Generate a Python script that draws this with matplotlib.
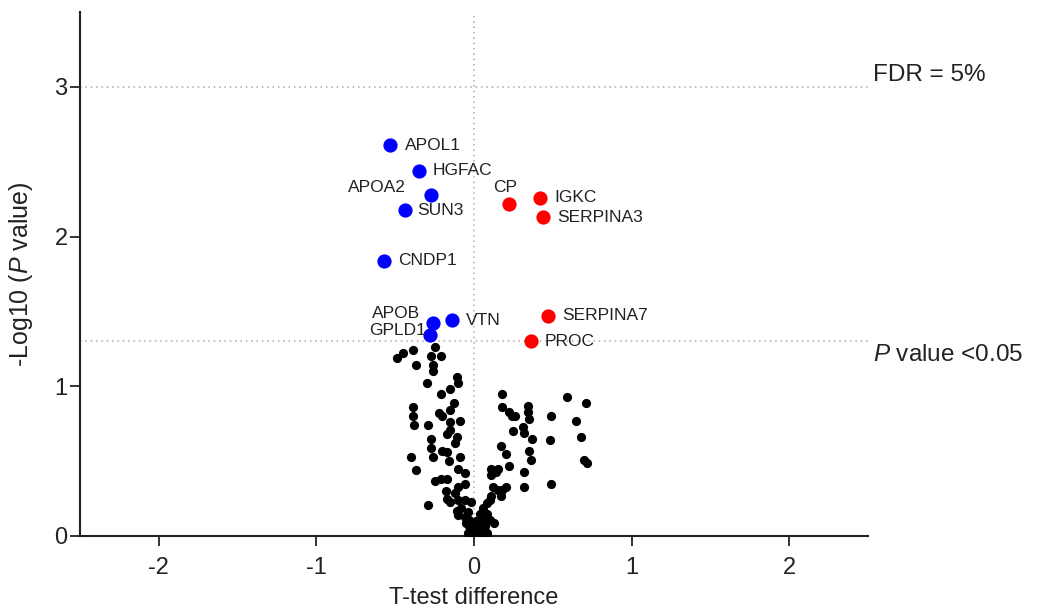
import numpy as np
import matplotlib
matplotlib.use('Agg')
import matplotlib.pyplot as plt

plt.rcParams['font.family'] = ['Liberation Sans', 'DejaVu Sans']
plt.rcParams['mathtext.fontset'] = 'custom'
plt.rcParams['mathtext.rm'] = 'Liberation Sans'
plt.rcParams['mathtext.it'] = 'Liberation Sans:italic'
plt.rcParams['axes.unicode_minus'] = False

# Non-significant proteins (T-test difference, -log10 P)
ns_diff = [-0.49, -0.45, -0.39, -0.37, -0.25, -0.27, -0.21, -0.26, -0.26, -0.30,
           -0.11, -0.10, -0.15, -0.21, -0.13, -0.15, -0.22, -0.20, -0.39, -0.39,
           -0.38, -0.29, -0.09, -0.15, -0.15, -0.17, -0.11, -0.12, -0.27, -0.27,
           -0.26, -0.40, -0.20, -0.17, -0.16, -0.09, -0.10, -0.06, -0.37, -0.25,
           -0.21, -0.17, -0.10, -0.06, -0.18, -0.17, -0.29, -0.15, -0.10, -0.06,
           -0.02, -0.11, -0.10, -0.06, -0.05, -0.03, -0.01, 0.01, -0.03, 0.02,
           -0.12, -0.04, -0.08, 0.18, 0.18, 0.22, 0.24, 0.26, 0.34, 0.34,
           0.35, 0.31, 0.25, 0.32, 0.37, 0.49, 0.48, 0.35, 0.36, 0.17,
           0.20, 0.22, 0.11, 0.14, 0.15, 0.32, 0.32, 0.49, 0.12, 0.18,
           0.20, 0.11, 0.08, 0.06, 0.04, 0.08, 0.13, 0.10, 0.05, 0.07,
           0.04, 0.59, 0.71, 0.65, 0.68, 0.70, 0.72, 0.11, 0.15, 0.10,
           0.03, 0.06, 0.01, 0.17, 0.00, 0.03, -0.04, 0.08, -0.01]
ns_logp = [1.19, 1.22, 1.24, 1.14, 1.26, 1.20, 1.20, 1.14, 1.10, 1.02,
           1.06, 1.02, 0.98, 0.95, 0.89, 0.84, 0.82, 0.80, 0.86, 0.80,
           0.74, 0.74, 0.77, 0.76, 0.71, 0.68, 0.66, 0.62, 0.65, 0.59,
           0.53, 0.53, 0.57, 0.56, 0.50, 0.53, 0.45, 0.42, 0.44, 0.37,
           0.38, 0.38, 0.33, 0.35, 0.30, 0.25, 0.21, 0.23, 0.24, 0.24,
           0.23, 0.17, 0.14, 0.13, 0.09, 0.07, 0.03, 0.01, 0.11, 0.07,
           0.29, 0.16, 0.19, 0.95, 0.86, 0.83, 0.80, 0.80, 0.87, 0.83,
           0.78, 0.73, 0.70, 0.69, 0.65, 0.80, 0.64, 0.57, 0.51, 0.60,
           0.55, 0.47, 0.45, 0.43, 0.45, 0.43, 0.33, 0.35, 0.33, 0.31,
           0.33, 0.27, 0.22, 0.19, 0.15, 0.15, 0.09, 0.11, 0.11, 0.07,
           0.04, 0.93, 0.89, 0.77, 0.66, 0.51, 0.49, 0.41, 0.31, 0.24,
           0.05, 0.03, 0.10, 0.27, 0.01, 0.01, 0.02, 0.02, 0.05]

# Significantly lower
down_genes = ['APOL1', 'HGFAC', 'APOA2', 'SUN3', 'CNDP1', 'APOB', 'VTN', 'GPLD1']
down_diff = [-0.53, -0.35, -0.27, -0.44, -0.57, -0.26, -0.14, -0.28]
down_logp = [2.61, 2.44, 2.28, 2.18, 1.84, 1.42, 1.44, 1.34]

# Significantly higher
up_genes = ['CP', 'IGKC', 'SERPINA3', 'SERPINA7', 'PROC']
up_diff = [0.22, 0.42, 0.44, 0.47, 0.36]
up_logp = [2.22, 2.26, 2.13, 1.47, 1.30]

fdr_line = 3.0
p_line = -np.log10(0.05)

# label offsets in pixels (dx, dy, ha)
offsets = {
    'APOL1': (14, 0, 'left'), 'HGFAC': (14, 0, 'left'), 'APOA2': (-26, 7, 'right'),
    'SUN3': (13, -1, 'left'), 'CNDP1': (14, 0, 'left'), 'APOB': (-13, 10, 'right'),
    'VTN': (14, 0, 'left'), 'GPLD1': (-4, 5, 'right'), 'CP': (-4, 16, 'center'),
    'IGKC': (14, 0, 'left'), 'SERPINA3': (14, 0, 'left'), 'SERPINA7': (14, 0, 'left'),
    'PROC': (14, 0, 'left'),
}

fig = plt.figure(figsize=(10.37, 6.08), dpi=100)
ax = fig.add_axes([80 / 1037, 72 / 608, 788 / 1037, 524 / 608])

dot_style = dict(color='#aaaaaa', linestyle=(0, (1, 2.5)), linewidth=1.1, zorder=1)
ax.axhline(fdr_line, **dot_style)
ax.axhline(p_line, **dot_style)
ax.axvline(0, **dot_style)

ax.scatter(ns_diff, ns_logp, s=44, color='black', zorder=3, linewidths=0)
ax.scatter(down_diff, down_logp, s=105, color='#0000ff', zorder=4, linewidths=0)
ax.scatter(up_diff, up_logp, s=105, color='#ff0000', zorder=4, linewidths=0)

for genes, xs, ys in [(down_genes, down_diff, down_logp), (up_genes, up_diff, up_logp)]:
    for g, x, y in zip(genes, xs, ys):
        dx, dy, ha = offsets[g]
        ax.annotate(g, (x, y), xytext=(dx, dy), textcoords='offset pixels',
                    ha=ha, va='center', fontsize=12.5, color='#222222', zorder=5)

ax.text(2.53, 3.08, 'FDR = 5%', fontsize=17.5, color='#222222', ha='left', va='center', clip_on=False)
ax.text(2.53, 1.21, r'$P$ value <0.05', fontsize=17.5, color='#222222', ha='left', va='center', clip_on=False)

ax.set_xlim(-2.5, 2.5)
ax.set_ylim(0, 3.5)
ax.set_xticks([-2, -1, 0, 1, 2])
ax.set_yticks([0, 1, 2, 3])
ax.spines['top'].set_visible(False)
ax.spines['right'].set_visible(False)
for sp in ['left', 'bottom']:
    ax.spines[sp].set_linewidth(1.5)
    ax.spines[sp].set_color('#222222')
ax.tick_params(length=7, width=1.3, labelsize=17, colors='#222222')
ax.tick_params(axis='x', pad=8)
ax.tick_params(axis='y', pad=2)
ax.set_xlabel('T-test difference', fontsize=17, color='#222222', labelpad=6)
ax.set_ylabel(r'-Log10 ($P$ value)', fontsize=18, color='#222222', labelpad=14)

fig.savefig('out.png', dpi=100)
